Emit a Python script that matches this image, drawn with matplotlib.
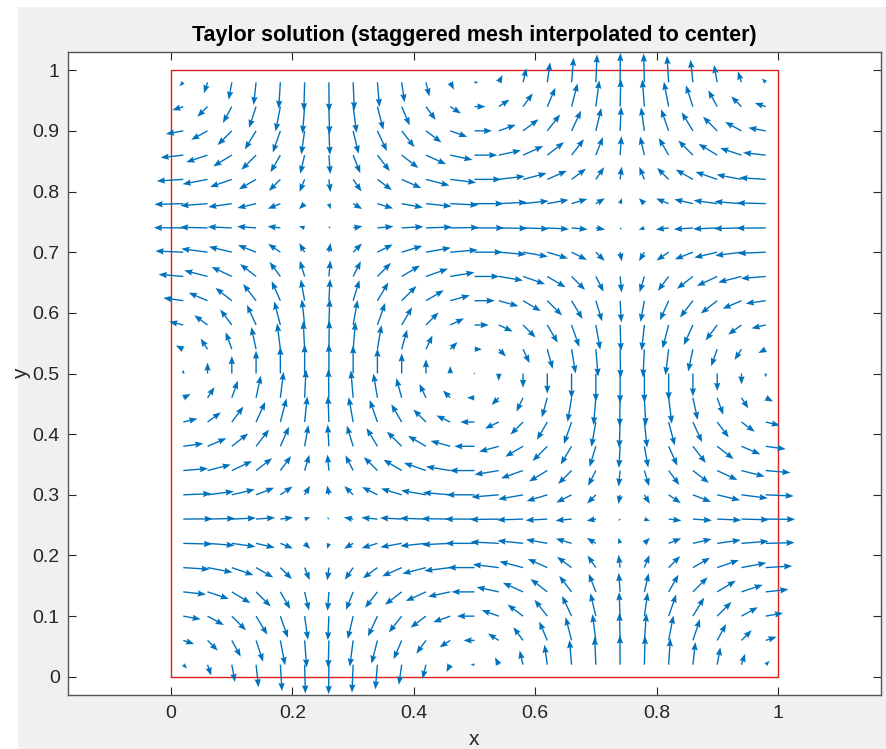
import numpy as np
import matplotlib.pyplot as plt
from matplotlib.patches import Rectangle

# cell centres of the 25x25 mesh (same in x and y)
cell_centres = [0.02, 0.06, 0.10, 0.14, 0.18, 0.22, 0.26, 0.30, 0.34, 0.38, 0.42, 0.46, 0.50,
                0.54, 0.58, 0.62, 0.66, 0.70, 0.74, 0.78, 0.82, 0.86, 0.90, 0.94, 0.98]

# velocity profiles at the cell centres
cos_profile = [0.99, 0.93, 0.81, 0.64, 0.43, 0.19, -0.06, -0.31, -0.54, -0.73, -0.88, -0.97, -1.00,
               -0.97, -0.88, -0.73, -0.54, -0.31, -0.06, 0.19, 0.43, 0.64, 0.81, 0.93, 0.99]
sin_profile = [0.13, 0.37, 0.59, 0.77, 0.90, 0.98, 1.00, 0.95, 0.84, 0.68, 0.48, 0.25, 0.00,
               -0.25, -0.48, -0.68, -0.84, -0.95, -1.00, -0.98, -0.90, -0.77, -0.59, -0.37, -0.13]

# domain outline
box_x = [0, 1, 1, 0, 0]
box_y = [0, 0, 1, 1, 0]

xticks = [0, 0.2, 0.4, 0.6, 0.8, 1]
xtick_labels = ['0', '0.2', '0.4', '0.6', '0.8', '1']
yticks = [0, 0.1, 0.2, 0.3, 0.4, 0.5, 0.6, 0.7, 0.8, 0.9, 1]
ytick_labels = ['0', '0.1', '0.2', '0.3', '0.4', '0.5', '0.6', '0.7', '0.8', '0.9', '1']

# build the 2D field table (rows = y, cols = x)
X, Y = np.meshgrid(cell_centres, cell_centres)
U = np.outer(sin_profile, cos_profile)
V = -np.outer(cos_profile, sin_profile)

plt.rcParams['font.family'] = ['Liberation Sans', 'DejaVu Sans']

fig = plt.figure(figsize=(8.87, 7.49), dpi=100, facecolor='white')
# matlab style grey figure background (screenshot has a thin white border)
fig.patches.append(Rectangle((18 / 887, 0), 1, (749 - 7) / 749, transform=fig.transFigure,
                             facecolor='#f0f0f0', edgecolor='none', zorder=-10))

ax = fig.add_axes([68 / 887, 54 / 749, 813 / 887, 643 / 749])
ax.set_facecolor('white')

ax.plot(box_x, box_y, color='#e02020', linewidth=1.0, zorder=1)
ax.quiver(X, Y, U, V, color='#0072BD', angles='xy', scale_units='xy', scale=1 / 0.049,
          width=0.0017, headwidth=4.6, headlength=6.0, headaxislength=5.4, zorder=2)

ax.set_xlim(-0.17, 1.17)
ax.set_ylim(-0.03, 1.03)

ax.set_xticks(xticks)
ax.set_xticklabels(xtick_labels)
ax.set_yticks(yticks)
ax.set_yticklabels(ytick_labels)
ax.tick_params(direction='in', length=5.8, width=0.8, colors='#262626', labelsize=14,
               top=True, right=True, pad=7)
ax.tick_params(axis='y', pad=6)
for s in ax.spines.values():
    s.set_color('#555555')
    s.set_linewidth(1.0)

ax.set_title('Taylor solution (staggered mesh interpolated to center)', fontsize=15.5,
             fontweight='bold', pad=8)
ax.set_xlabel('x', fontsize=15, color='#262626')
ax.set_ylabel('y', fontsize=15, color='#262626')
ax.xaxis.set_label_coords(0.5, -0.055)
ax.yaxis.set_label_coords(-0.057, 0.5)
ax.yaxis.label.set_va('center')

plt.savefig('out.png', dpi=100, facecolor=fig.get_facecolor())
